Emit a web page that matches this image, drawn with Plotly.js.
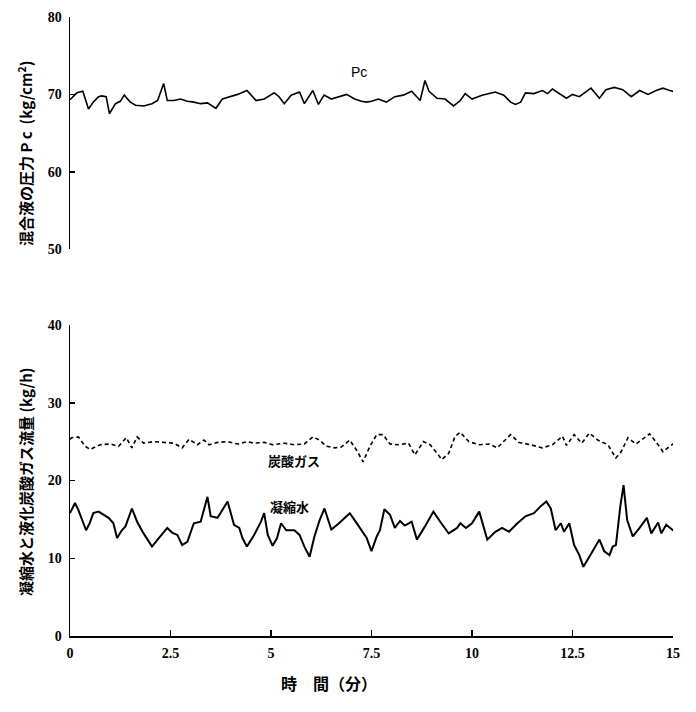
<!DOCTYPE html>
<html><head><meta charset="utf-8">
<script src="https://cdn.plot.ly/plotly-3.0.1.min.js"></script>
<style>body{margin:0;background:#fff}#c{width:696px;height:712px}</style>
</head><body><div id="c"></div>
<script>
// Mixed liquid pressure Pc (kg/cm2)
const pcTime = [0,0.07,0.17,0.32,0.46,0.58,0.71,0.79,0.9,0.98,1.13,1.25,1.35,1.5,1.63,1.83,2.04,2.18,2.33,2.42,2.58,2.75,2.92,3.08,3.25,3.42,3.63,3.79,4.0,4.17,4.4,4.63,4.83,5.08,5.2,5.33,5.5,5.71,5.83,6.04,6.18,6.32,6.5,6.67,6.88,7.08,7.25,7.38,7.5,7.67,7.87,8.08,8.29,8.5,8.71,8.83,8.93,9.13,9.33,9.54,9.71,9.83,10.0,10.25,10.58,10.79,10.96,11.08,11.21,11.33,11.54,11.75,11.88,12.0,12.17,12.35,12.5,12.67,12.96,13.17,13.33,13.54,13.75,13.96,14.17,14.38,14.58,14.75,14.92,15.05];
const pcValue = [69.3,69.7,70.2,70.4,68.1,69.0,69.7,69.8,69.7,67.5,68.8,69.1,69.9,69.0,68.6,68.5,68.8,69.2,71.4,69.2,69.2,69.4,69.1,69.0,68.8,68.9,68.2,69.4,69.7,70.0,70.5,69.2,69.4,70.2,69.7,68.8,69.9,70.3,68.8,70.5,68.7,69.9,69.4,69.7,70.0,69.4,69.1,69.0,69.1,69.4,69.0,69.7,69.9,70.4,69.2,71.8,70.4,69.5,69.4,68.5,69.2,70.1,69.4,69.9,70.3,69.9,69.0,68.7,69.0,70.2,70.1,70.5,70.1,70.7,70.1,69.5,70.0,69.7,70.8,69.5,70.6,70.9,70.6,69.7,70.5,70.0,70.5,70.8,70.5,70.3];

// Liquefied CO2 gas flow (kg/h)
const gasTime = [0,0.04,0.21,0.38,0.5,0.75,1.0,1.21,1.4,1.54,1.67,1.83,2.08,2.33,2.58,2.79,2.96,3.17,3.33,3.46,3.67,3.92,4.17,4.42,4.58,4.83,5.04,5.33,5.58,5.83,6.04,6.21,6.38,6.58,6.75,6.96,7.13,7.29,7.46,7.63,7.79,7.96,8.17,8.42,8.58,8.79,8.96,9.13,9.25,9.42,9.58,9.71,9.92,10.17,10.42,10.63,10.79,10.96,11.17,11.46,11.75,12.0,12.25,12.35,12.54,12.73,12.92,13.13,13.38,13.58,13.71,13.88,14.08,14.42,14.63,14.75,14.92,15.05];
const gasValue = [25.3,25.5,25.6,24.4,24.0,24.6,24.7,24.4,25.5,24.2,25.6,24.8,25.0,24.9,24.8,24.2,25.3,24.6,25.2,24.6,24.9,25.0,24.7,25.0,24.8,24.9,24.6,24.8,24.6,24.7,25.6,25.2,24.4,24.2,24.3,25.2,23.9,22.4,24.4,25.9,25.9,24.7,24.6,24.8,23.3,25.0,24.6,23.5,22.7,23.5,25.7,26.2,25.0,24.6,24.7,24.2,25.0,25.9,24.9,24.6,24.2,24.6,25.7,24.5,25.9,24.8,26.1,25.2,24.6,22.9,23.7,25.5,24.7,26.0,24.6,23.7,24.4,24.9];

// Condensed water flow (kg/h)
const waterTime = [0,0.125,0.21,0.29,0.4,0.48,0.58,0.71,0.83,0.96,1.08,1.17,1.29,1.38,1.54,1.67,1.83,2.04,2.21,2.42,2.54,2.67,2.79,2.92,3.08,3.25,3.42,3.5,3.67,3.79,3.92,4.08,4.21,4.29,4.4,4.58,4.75,4.83,4.92,5.04,5.15,5.25,5.38,5.58,5.71,5.83,5.96,6.08,6.21,6.33,6.5,6.67,6.83,6.96,7.08,7.25,7.38,7.5,7.63,7.71,7.82,7.96,8.08,8.21,8.33,8.5,8.63,8.83,9.04,9.21,9.42,9.63,9.71,9.85,10.0,10.18,10.38,10.58,10.75,10.92,11.13,11.33,11.54,11.71,11.85,11.96,12.08,12.21,12.29,12.42,12.54,12.67,12.77,12.92,13.04,13.17,13.29,13.42,13.5,13.58,13.69,13.77,13.86,14.0,14.17,14.35,14.46,14.63,14.71,14.83,15.05];
const waterValue = [15.8,17.1,16.2,15.2,13.6,14.4,15.8,16.0,15.6,15.2,14.5,12.6,13.6,14.1,16.4,14.7,13.2,11.5,12.6,13.9,13.3,13.0,11.7,12.1,14.5,14.7,17.9,15.4,15.2,16.2,17.3,14.3,13.9,12.6,11.5,13.0,14.7,15.8,13.0,11.6,12.6,14.5,13.6,13.6,13.0,11.5,10.2,12.8,14.9,16.4,13.7,14.4,15.2,15.8,14.9,13.6,12.6,10.9,12.8,13.6,16.3,15.6,13.9,14.8,14.2,14.7,12.4,14.1,16.0,14.7,13.2,13.9,14.5,13.9,14.5,16.0,12.4,13.4,13.9,13.4,14.5,15.4,15.8,16.7,17.3,16.4,13.6,14.5,13.4,14.5,11.7,10.4,8.9,10.2,11.2,12.4,10.9,10.4,11.5,11.7,16.7,19.4,14.9,12.8,13.9,15.2,13.2,14.6,13.2,14.3,13.4];

const xTicks = [0,2.5,5,7.5,10,12.5,15];
const xTickText = ['0','2.5','5','7.5','10','12.5','15'];
const pcTicks = [50,60,70,80];
const flowTicks = [0,10,20,30,40];

const serif = 'Liberation Serif, DejaVu Serif, serif';
const tickFont = {family:serif, size:14, color:'#000', weight:'bold'};
const jpFont = 'Noto Sans CJK JP';

const traces = [
  {x:pcTime, y:pcValue, xaxis:'x2', yaxis:'y2', mode:'lines', line:{color:'#000', width:1.6}},
  {x:gasTime, y:gasValue, xaxis:'x', yaxis:'y', mode:'lines', line:{color:'#000', width:1.6, dash:'4px,3px'}},
  {x:waterTime, y:waterValue, xaxis:'x', yaxis:'y', mode:'lines', line:{color:'#000', width:2}}
];

const axisCommon = {ticks:'inside', tickwidth:1.5, tickcolor:'#000', showline:true, linecolor:'#000', linewidth:1.5,
  showgrid:false, zeroline:false, tickfont:tickFont, ticklabelstandoff:4};

const layout = {
  width:696, height:712, showlegend:false,
  font:{family:serif, color:'#000'},
  paper_bgcolor:'#fff', plot_bgcolor:'#fff',
  margin:{l:70, r:23, t:17, b:76},
  xaxis:Object.assign({}, axisCommon, {domain:[0,1], range:[0,15], anchor:'y', tickvals:xTicks, ticktext:xTickText, ticklen:6}),
  yaxis:Object.assign({}, axisCommon, {domain:[0,0.5024], range:[0,40], anchor:'x', tickvals:flowTicks, ticklen:5}),
  xaxis2:{domain:[0,1], range:[0,15], anchor:'y2', visible:false, matches:'x'},
  yaxis2:Object.assign({}, axisCommon, {domain:[0.625,1], range:[50,80], anchor:'x2', tickvals:pcTicks, ticklen:5}),
  annotations:[
    {text:'混合液の圧力 P c  (kg/cm<sup>2</sup>)', xref:'paper', yref:'paper', x:-0.075, y:0.78, xanchor:'center', yanchor:'middle',
      textangle:-90, showarrow:false, font:{family:jpFont, size:15, color:'#000', weight:'bold'}},
    {text:'凝縮水と液化炭酸ガス流量 (kg/h)', xref:'paper', yref:'paper', x:-0.075, y:0.25, xanchor:'center', yanchor:'middle',
      textangle:-90, showarrow:false, font:{family:jpFont, size:15, color:'#000', weight:'bold'}},
    {text:'時　間（分）', xref:'x', yref:'paper', x:6.45, y:-0.076, xanchor:'center', yanchor:'middle',
      showarrow:false, font:{family:jpFont, size:16, color:'#000', weight:'bold'}},
    {text:'Pc', xref:'x2', yref:'y2', x:7.2, y:72.9, showarrow:false, font:{family:'Liberation Sans', size:14, color:'#000'}},
    {text:'炭酸ガス', xref:'x', yref:'y', x:5.57, y:22.6, showarrow:false, font:{family:jpFont, size:13, color:'#000', weight:'bold'}},
    {text:'凝縮水', xref:'x', yref:'y', x:5.45, y:16.6, showarrow:false, font:{family:jpFont, size:13, color:'#000', weight:'bold'}}
  ]
};
Plotly.newPlot('c', traces, layout, {displayModeBar:false, staticPlot:true});
</script></body></html>
